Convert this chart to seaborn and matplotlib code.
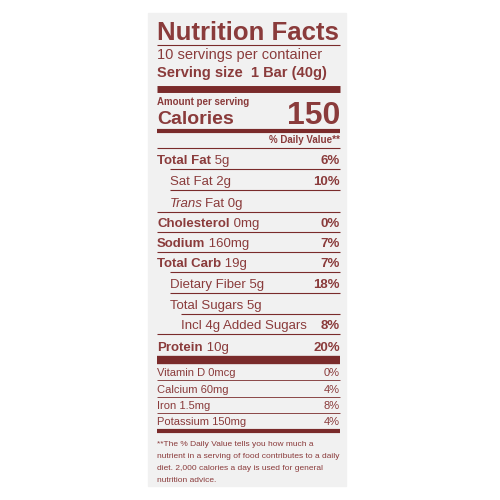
"""
Nutrition facts label redrawn with matplotlib text and lines
"""

import matplotlib.pyplot as plt
import seaborn as sns

sns.set_theme(style="white")
plt.rcParams['font.family'] = ['Liberation Sans Narrow', 'Liberation Sans', 'DejaVu Sans']

RED = '#8a3b3b'
DARK = '#7a2b2b'

# main nutrient rows
row_bold = ['Total Fat', '', '', 'Cholesterol', 'Sodium', 'Total Carb', '', '', '', 'Protein']
row_text = [' 5g', 'Sat Fat 2g', 'Fat 0g', ' 0mg', ' 160mg', ' 19g',
            'Dietary Fiber 5g', 'Total Sugars 5g', 'Incl 4g Added Sugars', ' 10g']
row_dv = ['6%', '10%', '', '0%', '7%', '7%', '18%', '', '8%', '20%']
row_indent = [0, 1, 1, 0, 0, 0, 1, 1, 2, 0]
row_y = [159, 180, 202, 222, 242, 262, 283, 304, 324, 346]

# vitamins / minerals
vit_names = ['Vitamin D 0mcg', 'Calcium 60mg', 'Iron 1.5mg', 'Potassium 150mg']
vit_dv = ['0%', '4%', '8%', '4%']
vit_y = [372, 389, 405, 421]

footnote = ['**The % Daily Value tells you how much a',
            'nutrient in a serving of food contributes to a daily',
            'diet. 2,000 calories a day is used for general',
            'nutrition advice.']

fig = plt.figure(figsize=(5, 5), dpi=100)
ax = fig.add_axes([0, 0, 1, 1])
ax.set_xlim(0, 500)
ax.set_ylim(500, 0)
ax.axis('off')

ax.add_patch(plt.Rectangle((148, 13), 198, 473, color='#f1f1f1', zorder=0))

L, R = 157, 340
indent_px = [0, 13, 24]
FS = 9.5


def hline(y, lw, x0=L):
    ax.plot([x0, R], [y, y], color=DARK, lw=lw, solid_capstyle='butt')


def right_edge(t):
    fig.canvas.draw()
    return ax.transData.inverted().transform((t.get_window_extent().x1, 0))[0]


# header
ax.text(L, 40, 'Nutrition Facts', fontsize=18.5, fontweight='bold', color=RED, va='baseline')
hline(45, 0.8)
ax.text(L, 59, '10 servings per container', fontsize=10.5, color=RED, va='baseline')
ax.text(L, 77, 'Serving size  1 Bar (40g)', fontsize=10.5, fontweight='bold', color=RED, va='baseline')
hline(89, 5)
ax.text(L, 105, 'Amount per serving', fontsize=7, fontweight='bold', color=RED, va='baseline')
ax.text(L, 124, 'Calories', fontsize=14, fontweight='bold', color=RED, va='baseline')
ax.text(R, 124, '150', fontsize=23, fontweight='bold', color=RED, va='baseline', ha='right')
hline(131, 3)
ax.text(R, 143, '% Daily Value**', fontsize=7, fontweight='bold', color=RED, va='baseline', ha='right')
hline(148, 0.8)

for i, y in enumerate(row_y):
    x = L + indent_px[row_indent[i]]
    base = y + 5
    if row_bold[i]:
        t = ax.text(x, base, row_bold[i], fontsize=FS, fontweight='bold', color=RED, va='baseline')
        ax.text(right_edge(t), base, row_text[i], fontsize=FS, color=RED, va='baseline')
    elif i == 2:
        t = ax.text(x, base, 'Trans', fontsize=FS, style='italic', color=RED, va='baseline')
        ax.text(right_edge(t) + 2, base, row_text[i], fontsize=FS, color=RED, va='baseline')
    else:
        ax.text(x, base, row_text[i], fontsize=FS, color=RED, va='baseline')
    if row_dv[i]:
        ax.text(R, base, row_dv[i], fontsize=FS, fontweight='bold', color=RED, va='baseline', ha='right')
    if i < len(row_y) - 1:
        hline(y + 10, 0.8, L + indent_px[row_indent[i + 1]])

hline(360, 6)

for name, dv, y in zip(vit_names, vit_dv, vit_y):
    ax.text(L, y + 4, name, fontsize=8, color=RED, va='baseline')
    ax.text(R, y + 4, dv, fontsize=8, color=RED, va='baseline', ha='right')
    if name != vit_names[-1]:
        hline(y + 8, 0.6)

hline(431, 3)

for k, line in enumerate(footnote):
    ax.text(L, 446 + k * 12, line, fontsize=6.0, color=RED, va='baseline')

fig.savefig('out.png', dpi=100, facecolor='white')
